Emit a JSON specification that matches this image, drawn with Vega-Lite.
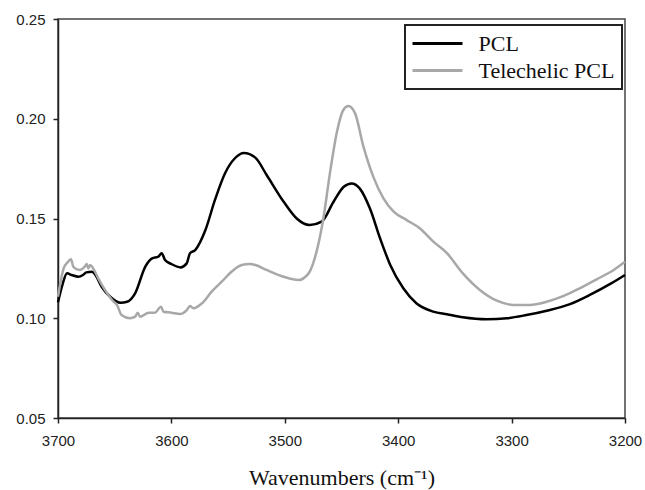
{
  "$schema": "https://vega.github.io/schema/vega-lite/v6.json",
  "width": 567,
  "height": 399,
  "autosize": {"type": "none"},
  "padding": {"left": 58, "top": 19, "right": 20, "bottom": 72},
  "background": "white",
  "config": {
    "view": {"stroke": "#444", "strokeWidth": 1.5},
    "axis": {
      "grid": false,
      "domainColor": "#222",
      "domainWidth": 1.5,
      "tickColor": "#222",
      "tickWidth": 1.5,
      "tickSize": 5,
      "labelFont": "Liberation Sans",
      "labelFontSize": 15,
      "labelColor": "#222",
      "labelPadding": 8,
      "labelFlush": false,
      "labelBound": false,
      "titleFont": "Liberation Serif",
      "titleFontSize": 22,
      "titleFontWeight": "normal",
      "titleColor": "#111"
    }
  },
  "data": {
    "values": [
      {"wn": 3700, "a": 0.108, "s": "PCL"},
      {"wn": 3696, "a": 0.117, "s": "PCL"},
      {"wn": 3692, "a": 0.1225, "s": "PCL"},
      {"wn": 3688, "a": 0.1217, "s": "PCL"},
      {"wn": 3682, "a": 0.1208, "s": "PCL"},
      {"wn": 3678, "a": 0.1217, "s": "PCL"},
      {"wn": 3675, "a": 0.123, "s": "PCL"},
      {"wn": 3670, "a": 0.1233, "s": "PCL"},
      {"wn": 3667, "a": 0.1217, "s": "PCL"},
      {"wn": 3661.5, "a": 0.1158, "s": "PCL"},
      {"wn": 3654, "a": 0.1108, "s": "PCL"},
      {"wn": 3645, "a": 0.1078, "s": "PCL"},
      {"wn": 3639, "a": 0.1083, "s": "PCL"},
      {"wn": 3632, "a": 0.1125, "s": "PCL"},
      {"wn": 3623, "a": 0.1259, "s": "PCL"},
      {"wn": 3617, "a": 0.13, "s": "PCL"},
      {"wn": 3611.5, "a": 0.1309, "s": "PCL"},
      {"wn": 3608.6, "a": 0.1326, "s": "PCL"},
      {"wn": 3605.6, "a": 0.1292, "s": "PCL"},
      {"wn": 3600, "a": 0.1272, "s": "PCL"},
      {"wn": 3592, "a": 0.1255, "s": "PCL"},
      {"wn": 3586.5, "a": 0.1275, "s": "PCL"},
      {"wn": 3583.6, "a": 0.1326, "s": "PCL"},
      {"wn": 3579, "a": 0.1342, "s": "PCL"},
      {"wn": 3570, "a": 0.1442, "s": "PCL"},
      {"wn": 3561.6, "a": 0.1593, "s": "PCL"},
      {"wn": 3552.7, "a": 0.1727, "s": "PCL"},
      {"wn": 3544, "a": 0.1802, "s": "PCL"},
      {"wn": 3536, "a": 0.1828, "s": "PCL"},
      {"wn": 3526, "a": 0.1805, "s": "PCL"},
      {"wn": 3516, "a": 0.1718, "s": "PCL"},
      {"wn": 3501, "a": 0.1584, "s": "PCL"},
      {"wn": 3489.5, "a": 0.15, "s": "PCL"},
      {"wn": 3478, "a": 0.1467, "s": "PCL"},
      {"wn": 3467.5, "a": 0.1484, "s": "PCL"},
      {"wn": 3457, "a": 0.1584, "s": "PCL"},
      {"wn": 3448, "a": 0.1659, "s": "PCL"},
      {"wn": 3441, "a": 0.1676, "s": "PCL"},
      {"wn": 3434, "a": 0.1651, "s": "PCL"},
      {"wn": 3425, "a": 0.1551, "s": "PCL"},
      {"wn": 3416, "a": 0.1401, "s": "PCL"},
      {"wn": 3407, "a": 0.1267, "s": "PCL"},
      {"wn": 3395.5, "a": 0.115, "s": "PCL"},
      {"wn": 3384, "a": 0.1075, "s": "PCL"},
      {"wn": 3369, "a": 0.1033, "s": "PCL"},
      {"wn": 3357, "a": 0.102, "s": "PCL"},
      {"wn": 3343, "a": 0.1005, "s": "PCL"},
      {"wn": 3322, "a": 0.0995, "s": "PCL"},
      {"wn": 3304, "a": 0.1, "s": "PCL"},
      {"wn": 3287, "a": 0.1016, "s": "PCL"},
      {"wn": 3269, "a": 0.1038, "s": "PCL"},
      {"wn": 3248.5, "a": 0.1071, "s": "PCL"},
      {"wn": 3231, "a": 0.1117, "s": "PCL"},
      {"wn": 3213, "a": 0.1172, "s": "PCL"},
      {"wn": 3200, "a": 0.1217, "s": "PCL"},
      {"wn": 3700, "a": 0.1108, "s": "Telechelic PCL"},
      {"wn": 3695, "a": 0.125, "s": "Telechelic PCL"},
      {"wn": 3691, "a": 0.1284, "s": "Telechelic PCL"},
      {"wn": 3688.5, "a": 0.1296, "s": "Telechelic PCL"},
      {"wn": 3686.5, "a": 0.1258, "s": "Telechelic PCL"},
      {"wn": 3681, "a": 0.1242, "s": "Telechelic PCL"},
      {"wn": 3676, "a": 0.1262, "s": "Telechelic PCL"},
      {"wn": 3674.7, "a": 0.1272, "s": "Telechelic PCL"},
      {"wn": 3673.3, "a": 0.125, "s": "Telechelic PCL"},
      {"wn": 3671.8, "a": 0.1267, "s": "Telechelic PCL"},
      {"wn": 3669, "a": 0.125, "s": "Telechelic PCL"},
      {"wn": 3664.5, "a": 0.12, "s": "Telechelic PCL"},
      {"wn": 3658.6, "a": 0.1142, "s": "Telechelic PCL"},
      {"wn": 3651, "a": 0.1083, "s": "Telechelic PCL"},
      {"wn": 3648, "a": 0.1067, "s": "Telechelic PCL"},
      {"wn": 3644, "a": 0.1016, "s": "Telechelic PCL"},
      {"wn": 3636.5, "a": 0.1, "s": "Telechelic PCL"},
      {"wn": 3632, "a": 0.1008, "s": "Telechelic PCL"},
      {"wn": 3629.7, "a": 0.1028, "s": "Telechelic PCL"},
      {"wn": 3627.7, "a": 0.1008, "s": "Telechelic PCL"},
      {"wn": 3620, "a": 0.1028, "s": "Telechelic PCL"},
      {"wn": 3614.5, "a": 0.1028, "s": "Telechelic PCL"},
      {"wn": 3609.2, "a": 0.1058, "s": "Telechelic PCL"},
      {"wn": 3607, "a": 0.1033, "s": "Telechelic PCL"},
      {"wn": 3600, "a": 0.1028, "s": "Telechelic PCL"},
      {"wn": 3592.4, "a": 0.1021, "s": "Telechelic PCL"},
      {"wn": 3586.5, "a": 0.1041, "s": "Telechelic PCL"},
      {"wn": 3583.6, "a": 0.1061, "s": "Telechelic PCL"},
      {"wn": 3580.7, "a": 0.105, "s": "Telechelic PCL"},
      {"wn": 3573, "a": 0.1075, "s": "Telechelic PCL"},
      {"wn": 3564.5, "a": 0.1133, "s": "Telechelic PCL"},
      {"wn": 3555.6, "a": 0.1183, "s": "Telechelic PCL"},
      {"wn": 3547, "a": 0.1233, "s": "Telechelic PCL"},
      {"wn": 3538, "a": 0.1267, "s": "Telechelic PCL"},
      {"wn": 3531, "a": 0.1272, "s": "Telechelic PCL"},
      {"wn": 3526, "a": 0.1267, "s": "Telechelic PCL"},
      {"wn": 3516, "a": 0.1242, "s": "Telechelic PCL"},
      {"wn": 3501, "a": 0.1208, "s": "Telechelic PCL"},
      {"wn": 3488, "a": 0.1192, "s": "Telechelic PCL"},
      {"wn": 3479, "a": 0.1225, "s": "Telechelic PCL"},
      {"wn": 3472, "a": 0.1334, "s": "Telechelic PCL"},
      {"wn": 3466, "a": 0.15, "s": "Telechelic PCL"},
      {"wn": 3460, "a": 0.1735, "s": "Telechelic PCL"},
      {"wn": 3454, "a": 0.1935, "s": "Telechelic PCL"},
      {"wn": 3448.4, "a": 0.2044, "s": "Telechelic PCL"},
      {"wn": 3444, "a": 0.2064, "s": "Telechelic PCL"},
      {"wn": 3438, "a": 0.2027, "s": "Telechelic PCL"},
      {"wn": 3431, "a": 0.1868, "s": "Telechelic PCL"},
      {"wn": 3422, "a": 0.171, "s": "Telechelic PCL"},
      {"wn": 3413, "a": 0.1601, "s": "Telechelic PCL"},
      {"wn": 3404, "a": 0.1534, "s": "Telechelic PCL"},
      {"wn": 3392.5, "a": 0.1492, "s": "Telechelic PCL"},
      {"wn": 3381, "a": 0.1451, "s": "Telechelic PCL"},
      {"wn": 3369, "a": 0.1384, "s": "Telechelic PCL"},
      {"wn": 3357, "a": 0.1326, "s": "Telechelic PCL"},
      {"wn": 3343, "a": 0.1225, "s": "Telechelic PCL"},
      {"wn": 3328, "a": 0.1142, "s": "Telechelic PCL"},
      {"wn": 3313, "a": 0.1088, "s": "Telechelic PCL"},
      {"wn": 3298.5, "a": 0.1067, "s": "Telechelic PCL"},
      {"wn": 3284, "a": 0.1067, "s": "Telechelic PCL"},
      {"wn": 3269, "a": 0.1083, "s": "Telechelic PCL"},
      {"wn": 3254, "a": 0.1112, "s": "Telechelic PCL"},
      {"wn": 3240, "a": 0.115, "s": "Telechelic PCL"},
      {"wn": 3225, "a": 0.1195, "s": "Telechelic PCL"},
      {"wn": 3210, "a": 0.1242, "s": "Telechelic PCL"},
      {"wn": 3200, "a": 0.1283, "s": "Telechelic PCL"}
    ]
  },
  "mark": {"type": "line", "strokeWidth": 2.5, "interpolate": "monotone"},
  "encoding": {
    "x": {
      "field": "wn",
      "type": "quantitative",
      "scale": {"domain": [3200, 3700], "reverse": true, "nice": false, "zero": false},
      "axis": {
        "values": [3700, 3600, 3500, 3400, 3300, 3200],
        "format": "d",
        "title": "Wavenumbers (cm⁻¹)",
        "titleBaseline": "alphabetic",
        "titleY": 66,
        "labelPadding": 10
      }
    },
    "y": {
      "field": "a",
      "type": "quantitative",
      "scale": {"domain": [0.05, 0.25], "nice": false, "zero": false},
      "axis": {
        "values": [0.05, 0.1, 0.15, 0.2, 0.25],
        "format": ".2f",
        "title": null,
        "labelPadding": 8
      }
    },
    "color": {
      "field": "s",
      "type": "nominal",
      "scale": {"domain": ["PCL", "Telechelic PCL"], "range": ["#000000", "#a8a8a8"]},
      "legend": {
        "title": null,
        "orient": "none",
        "legendX": 347,
        "legendY": 6,
        "padding": 7.5,
        "fillColor": "white",
        "strokeColor": "#222",
        "symbolType": "M-5,0H5",
        "symbolSize": 100,
        "symbolStrokeWidth": 3,
        "symbolOffset": 14,
        "labelOffset": 30,
        "labelFont": "Liberation Serif",
        "labelFontSize": 22,
        "labelColor": "#111",
        "labelLimit": 400,
        "rowPadding": 5,
        "encode": {"legend": {"update": {"strokeWidth": {"value": 2}}}}
      }
    }
  }
}
